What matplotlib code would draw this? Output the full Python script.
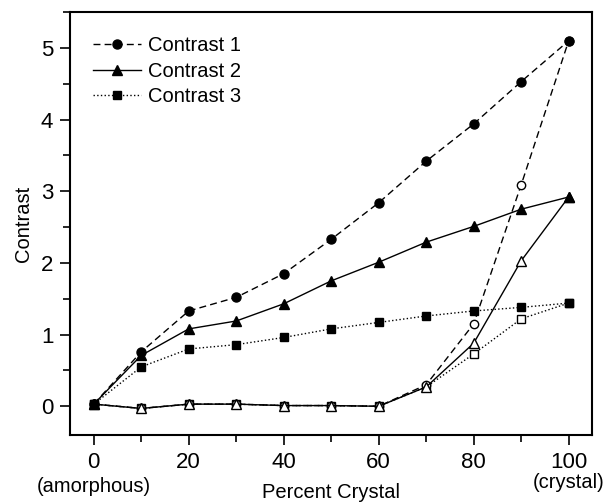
import matplotlib.pyplot as plt
from matplotlib.ticker import MultipleLocator

plt.rcParams['font.family'] = ['Liberation Sans', 'DejaVu Sans']

# percent crystal
pct = [0, 10, 20, 30, 40, 50, 60, 70, 80, 90, 100]

# filled markers
contrast1 = [0.03, 0.76, 1.33, 1.52, 1.85, 2.33, 2.84, 3.42, 3.94, 4.53, 5.10]
contrast2 = [0.03, 0.71, 1.08, 1.19, 1.43, 1.75, 2.01, 2.29, 2.51, 2.75, 2.92]
contrast3 = [0.03, 0.55, 0.80, 0.86, 0.96, 1.08, 1.17, 1.26, 1.33, 1.38, 1.44]

# open markers
open1 = [0.03, -0.03, 0.03, 0.03, 0.01, 0.01, 0.0, 0.30, 1.15, 3.09, 5.10]
open2 = [0.03, -0.03, 0.03, 0.03, 0.01, 0.01, 0.0, 0.27, 0.88, 2.03, 2.92]
open3 = [0.03, -0.03, 0.03, 0.03, 0.01, 0.01, 0.0, 0.27, 0.73, 1.22, 1.44]

fig = plt.figure(figsize=(6.11, 5.04), dpi=100)
ax = fig.add_axes([0.1146, 0.137, 0.855, 0.839])

ax.plot(pct, open3, ls=':', color='black', lw=1, marker='s', ms=6, mfc='white', mec='black')
ax.plot(pct, open1, ls='--', color='black', lw=1, marker='o', ms=6, mfc='white', mec='black', dashes=(5, 3))
ax.plot(pct, open2, ls='-', color='black', lw=1, marker='^', ms=7.5, mfc='white', mec='black')

ax.plot(pct, contrast1, ls='--', color='black', lw=1, marker='o', ms=6.5, dashes=(5, 3), label='Contrast 1')
ax.plot(pct, contrast2, ls='-', color='black', lw=1, marker='^', ms=7.5, label='Contrast 2')
ax.plot(pct, contrast3, ls=':', color='black', lw=1, marker='s', ms=6, label='Contrast 3')

ax.set_xlim(-5, 105)
ax.set_ylim(-0.4, 5.5)
ax.xaxis.set_major_locator(MultipleLocator(20))
ax.xaxis.set_minor_locator(MultipleLocator(10))
ax.yaxis.set_major_locator(MultipleLocator(1))
ax.yaxis.set_minor_locator(MultipleLocator(0.5))
ax.tick_params(which='major', direction='out', length=7, width=1.2, labelsize=16, pad=5)
ax.tick_params(which='minor', direction='out', length=5, width=1.2)
for s in ax.spines.values():
    s.set_linewidth(1.5)

ax.set_ylabel('Contrast', fontsize=14.5, labelpad=6)
ax.text(0.5, -0.135, 'Percent Crystal', transform=ax.transAxes, ha='center', va='center', fontsize=14.5)
ax.text(0, -1.12, '(amorphous)', ha='center', va='center', fontsize=14.5)
ax.text(100, -1.07, '(crystal)', ha='center', va='center', fontsize=14.5)

ax.legend(loc='upper left', frameon=False, fontsize=14.5, handlelength=2.4,
          handletextpad=0.35, labelspacing=0.33, borderaxespad=0, borderpad=0,
          bbox_to_anchor=(0.044, 0.943))

fig.savefig('out.png', dpi=100)
